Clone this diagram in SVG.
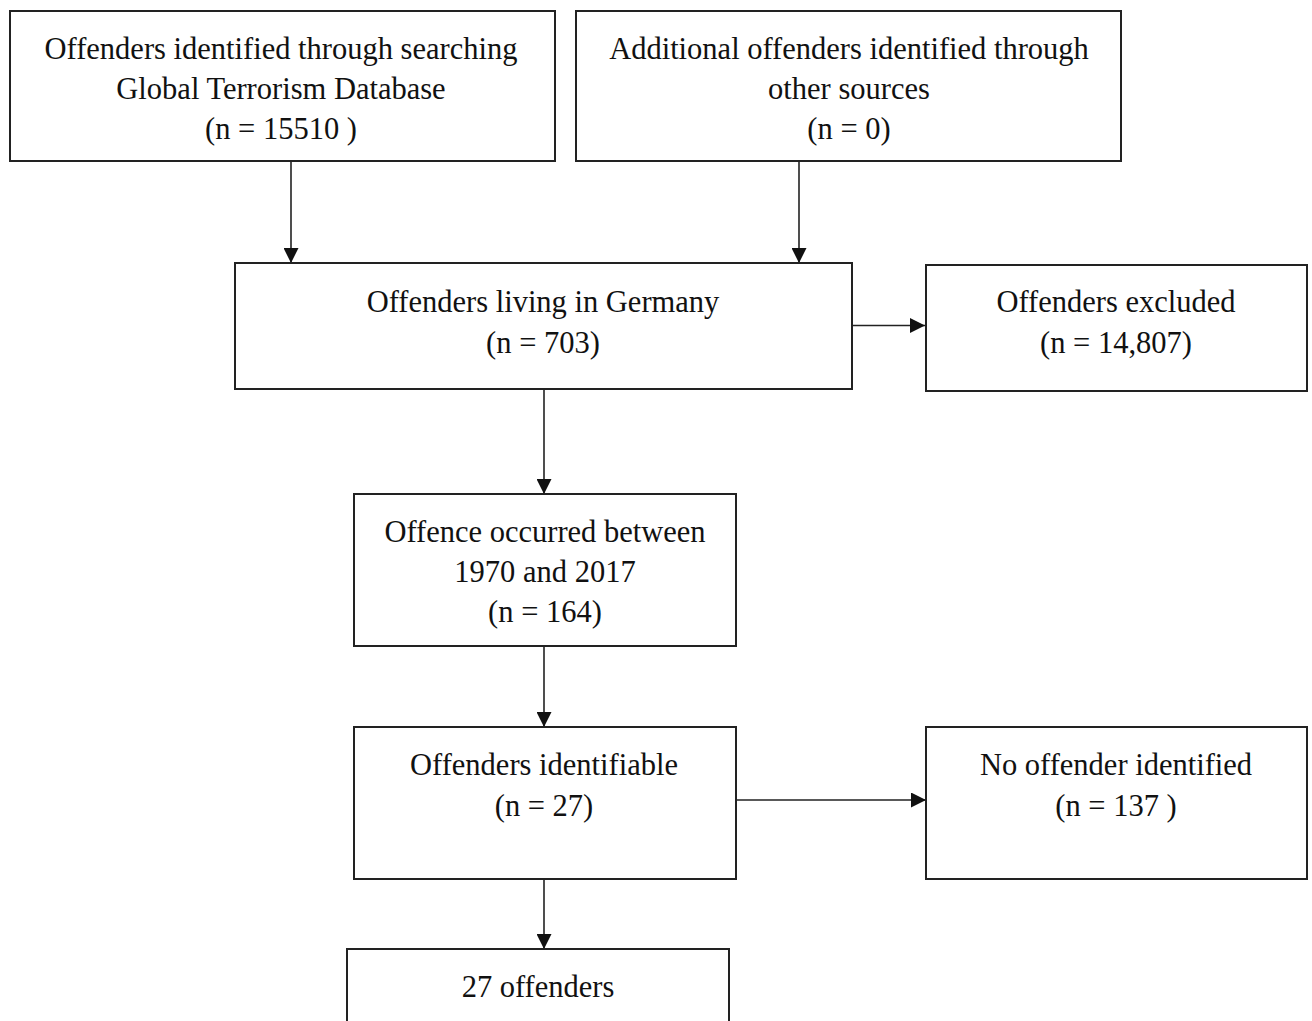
<svg xmlns="http://www.w3.org/2000/svg" width="1312" height="1021" viewBox="0 0 1312 1021">
<style>
.box{fill:#fff;stroke:#222;stroke-width:2}
.t{font-family:"Liberation Serif","Times New Roman",serif;font-size:30.5px;fill:#111;text-anchor:middle}
.c{stroke:#222;stroke-width:1.6;fill:none;marker-end:url(#ah)}
</style>
<defs>
<marker id="ah" markerUnits="userSpaceOnUse" markerWidth="15" markerHeight="15" refX="15" refY="7.5" orient="auto">
<path d="M0,0 L15,7.5 L0,15 z" fill="#111"/>
</marker>
</defs>
<rect width="1312" height="1021" fill="#fff"/>
<g id="connectors">
<line class="c" x1="291" y1="161" x2="291" y2="263"/>
<line class="c" x1="799" y1="161" x2="799" y2="263"/>
<line class="c" x1="852" y1="325.5" x2="925" y2="325.5"/>
<line class="c" x1="544" y1="389" x2="544" y2="494"/>
<line class="c" x1="544" y1="646" x2="544" y2="727"/>
<line class="c" x1="736" y1="800" x2="926" y2="800"/>
<line class="c" x1="544" y1="879" x2="544" y2="949"/>
</g>
<g id="n1">
<rect class="box" x="10" y="11" width="545" height="150"/>
<text class="t" x="281" y="59">Offenders identified through searching</text>
<text class="t" x="281" y="99">Global Terrorism Database</text>
<text class="t" x="281" y="139">(n = 15510 )</text>
</g>
<g id="n2">
<rect class="box" x="576" y="11" width="545" height="150"/>
<text class="t" x="849" y="59">Additional offenders identified through</text>
<text class="t" x="849" y="99">other sources</text>
<text class="t" x="849" y="139">(n = 0)</text>
</g>
<g id="n3">
<rect class="box" x="235" y="263" width="617" height="126"/>
<text class="t" x="543" y="312">Offenders living in Germany</text>
<text class="t" x="543" y="353">(n = 703)</text>
</g>
<g id="n4">
<rect class="box" x="926" y="265" width="381" height="126"/>
<text class="t" x="1116" y="312">Offenders excluded</text>
<text class="t" x="1116" y="353">(n = 14,807)</text>
</g>
<g id="n5">
<rect class="box" x="354" y="494" width="382" height="152"/>
<text class="t" x="545" y="542">Offence occurred between</text>
<text class="t" x="545" y="582">1970 and 2017</text>
<text class="t" x="545" y="622">(n = 164)</text>
</g>
<g id="n6">
<rect class="box" x="354" y="727" width="382" height="152"/>
<text class="t" x="544" y="775">Offenders identifiable</text>
<text class="t" x="544" y="816">(n = 27)</text>
</g>
<g id="n7">
<rect class="box" x="926" y="727" width="381" height="152"/>
<text class="t" x="1116" y="775">No offender identified</text>
<text class="t" x="1116" y="816">(n = 137 )</text>
</g>
<g id="n8">
<rect class="box" x="347" y="949" width="382" height="120"/>
<text class="t" x="538" y="997">27 offenders</text>
</g>
</svg>
